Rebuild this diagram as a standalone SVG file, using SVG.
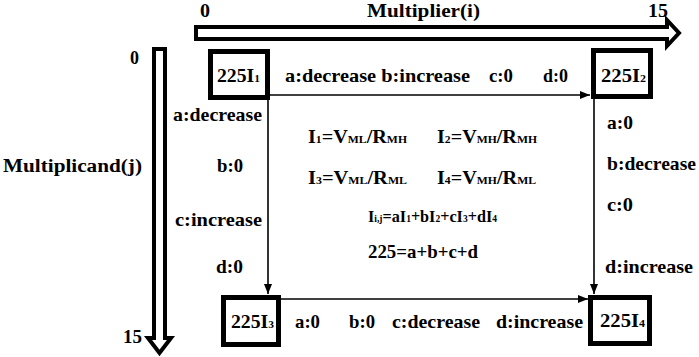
<svg xmlns="http://www.w3.org/2000/svg" width="699" height="357" viewBox="0 0 699 357">
<style>
text{font-family:"Liberation Serif","Times New Roman",serif;font-weight:bold;font-size:19px;fill:#000}
.s{font-size:11px}
.ax{font-size:18px}
.eq{font-size:17px}
.eq .s{font-size:10px}
.box{fill:#fff;stroke:#000;stroke-width:5}
.axis{fill:#fff;stroke:#000;stroke-width:4;stroke-linejoin:miter}
.con{stroke:#000;stroke-width:1.6;fill:none}
</style>
<defs>
<marker id="ah" viewBox="0 0 10 8" refX="10" refY="4" markerWidth="10" markerHeight="8" markerUnits="userSpaceOnUse" orient="auto">
<path d="M0,0 L10,4 L0,8 Z" fill="#000"/>
</marker>
</defs>
<rect width="699" height="357" fill="#fff"/>
<g id="axis-i">
<path class="axis" d="M196,27 L667,27 L667,20 L679,33 L667,46 L667,39 L196,39 Z"/>
<text class="ax" x="200" y="17" textLength="10" lengthAdjust="spacingAndGlyphs">0</text>
<text class="ax" x="367" y="17" textLength="113" lengthAdjust="spacingAndGlyphs">Multiplier(i)</text>
<text class="ax" x="648" y="17" textLength="20" lengthAdjust="spacingAndGlyphs">15</text>
</g>
<g id="axis-j">
<path class="axis" d="M154,49 L165,49 L165,338 L171,338 L159.5,353 L148,338 L154,338 Z"/>
<text class="ax" x="130" y="64" textLength="9" lengthAdjust="spacingAndGlyphs">0</text>
<text class="ax" x="3" y="172" textLength="139" lengthAdjust="spacingAndGlyphs">Multiplicand(j)</text>
<text class="ax" x="123" y="343" textLength="19" lengthAdjust="spacingAndGlyphs">15</text>
</g>
<g id="connectors">
<line class="con" x1="270" y1="95" x2="590" y2="95" marker-end="url(#ah)"/>
<line class="con" x1="268" y1="100" x2="268" y2="294" marker-end="url(#ah)"/>
<line class="con" x1="594" y1="99" x2="594" y2="294" marker-end="url(#ah)"/>
<line class="con" x1="280" y1="299" x2="588" y2="299" marker-end="url(#ah)"/>
<text x="285" y="82" textLength="185" lengthAdjust="spacingAndGlyphs">a:decrease b:increase</text>
<text x="489" y="82" textLength="24" lengthAdjust="spacingAndGlyphs">c:0</text>
<text x="543" y="82" textLength="25" lengthAdjust="spacingAndGlyphs">d:0</text>
<text x="173" y="121" textLength="89" lengthAdjust="spacingAndGlyphs">a:decrease</text>
<text x="217" y="172" textLength="26" lengthAdjust="spacingAndGlyphs">b:0</text>
<text x="175" y="226" textLength="87" lengthAdjust="spacingAndGlyphs">c:increase</text>
<text x="216" y="273" textLength="27" lengthAdjust="spacingAndGlyphs">d:0</text>
<text x="607" y="129" textLength="26" lengthAdjust="spacingAndGlyphs">a:0</text>
<text x="607" y="170" textLength="89" lengthAdjust="spacingAndGlyphs">b:decrease</text>
<text x="607" y="211" textLength="26" lengthAdjust="spacingAndGlyphs">c:0</text>
<text x="605" y="273" textLength="88" lengthAdjust="spacingAndGlyphs">d:increase</text>
<text x="295" y="328" textLength="25" lengthAdjust="spacingAndGlyphs">a:0</text>
<text x="349" y="328" textLength="26" lengthAdjust="spacingAndGlyphs">b:0</text>
<text x="392" y="328" textLength="88" lengthAdjust="spacingAndGlyphs">c:decrease</text>
<text x="496" y="328" textLength="87" lengthAdjust="spacingAndGlyphs">d:increase</text>
</g>
<g id="node-I1">
<rect class="box" x="210.5" y="51.5" width="57" height="46"/>
<text x="217" y="82" textLength="43" lengthAdjust="spacingAndGlyphs">225I<tspan class="s">1</tspan></text>
</g>
<g id="node-I2">
<rect class="box" x="593.5" y="50.5" width="57" height="46"/>
<text x="601" y="82" textLength="45" lengthAdjust="spacingAndGlyphs">225I<tspan class="s">2</tspan></text>
</g>
<g id="node-I3">
<rect class="box" x="223.5" y="297.5" width="55" height="47"/>
<text x="231" y="328" textLength="43" lengthAdjust="spacingAndGlyphs">225I<tspan class="s">3</tspan></text>
</g>
<g id="node-I4">
<rect class="box" x="590.5" y="297.5" width="59" height="46"/>
<text x="600" y="327" textLength="45" lengthAdjust="spacingAndGlyphs">225I<tspan class="s">4</tspan></text>
</g>
<g id="equations">
<text x="308" y="143" textLength="99" lengthAdjust="spacingAndGlyphs">I<tspan class="s">1</tspan>=V<tspan class="s">ML</tspan>/R<tspan class="s">MH</tspan></text>
<text x="437" y="143" textLength="100" lengthAdjust="spacingAndGlyphs">I<tspan class="s">2</tspan>=V<tspan class="s">MH</tspan>/R<tspan class="s">MH</tspan></text>
<text x="308" y="184" textLength="99" lengthAdjust="spacingAndGlyphs">I<tspan class="s">3</tspan>=V<tspan class="s">ML</tspan>/R<tspan class="s">ML</tspan></text>
<text x="437" y="184" textLength="99" lengthAdjust="spacingAndGlyphs">I<tspan class="s">4</tspan>=V<tspan class="s">MH</tspan>/R<tspan class="s">ML</tspan></text>
<text class="eq" x="368" y="222" textLength="129" lengthAdjust="spacingAndGlyphs">I<tspan class="s">i,j</tspan>=aI<tspan class="s">1</tspan>+bI<tspan class="s">2</tspan>+cI<tspan class="s">3</tspan>+dI<tspan class="s">4</tspan></text>
<text x="368" y="258" textLength="110" lengthAdjust="spacingAndGlyphs">225=a+b+c+d</text>
</g>
</svg>
